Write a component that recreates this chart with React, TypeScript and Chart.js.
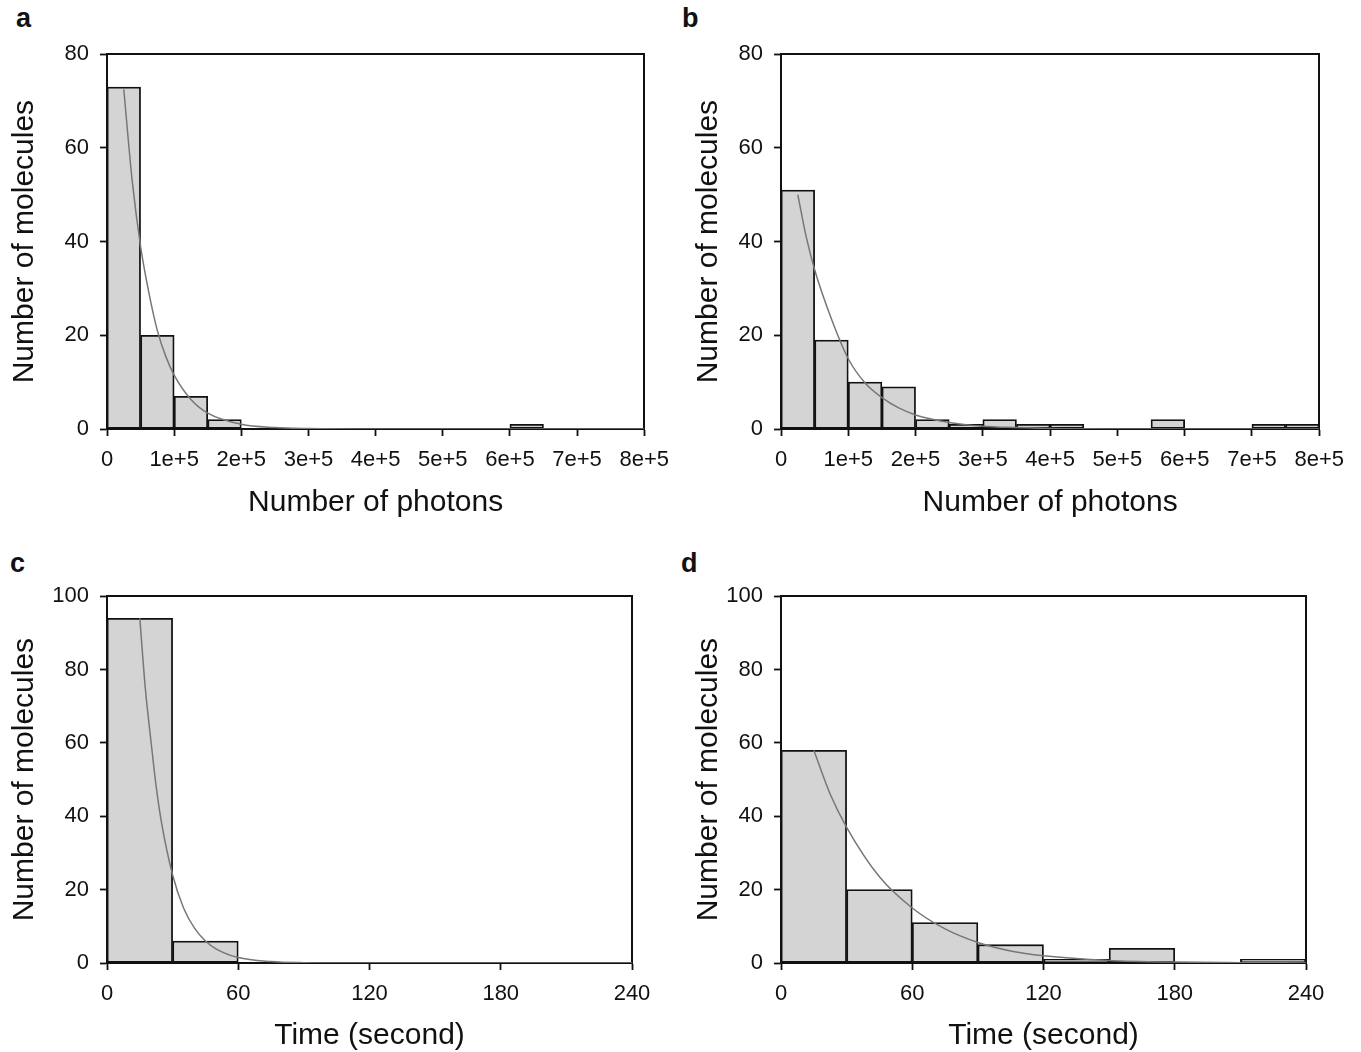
import React, { useEffect, useRef } from 'react';
import { Chart, registerables } from 'chart.js';

Chart.register(...registerables);

// ---------- data ----------
const photonBinCenters = [25000, 75000, 125000, 175000, 225000, 275000, 325000, 375000, 425000, 475000, 525000, 575000, 625000, 675000, 725000, 775000];
const photonTickLabels = ['0', '1e+5', '2e+5', '3e+5', '4e+5', '5e+5', '6e+5', '7e+5', '8e+5'];

const countsA = [73, 20, 7, 2, 0, 0, 0, 0, 0, 0, 0, 0, 1, 0, 0, 0];
const countsB = [51, 19, 10, 9, 2, 1, 2, 1, 1, 0, 0, 2, 0, 0, 1, 1];

const fitAX = [25000, 37500, 50000, 62500, 75000, 87500, 100000, 125000, 150000, 200000, 250000, 300000, 400000, 800000];
const fitAY = [72.5, 53, 39, 29, 21, 15.5, 11.5, 6.3, 3.4, 1.0, 0.3, 0.1, 0.01, 0];

const fitBX = [25000, 37500, 50000, 75000, 100000, 125000, 150000, 175000, 200000, 250000, 300000, 350000, 400000, 500000, 800000];
const fitBY = [50, 41, 34, 23.5, 15, 9.8, 6.7, 4.5, 3, 1.4, 0.6, 0.3, 0.1, 0.02, 0];

const timeBinCenters = [15, 45, 75, 105, 135, 165, 195, 225];
const timeTickLabels = ['0', '60', '120', '180', '240'];

const countsC = [94, 6, 0, 0, 0, 0, 0, 0];
const countsD = [58, 20, 11, 5, 1, 4, 0, 1];

const fitCX = [15, 17.5, 20, 22.5, 25, 30, 35, 40, 45, 50, 60, 75, 90, 120, 240];
const fitCY = [94, 75, 61, 48, 38, 24, 15, 9.5, 6, 3.8, 1.5, 0.4, 0.1, 0, 0];

const fitDX = [15, 22.5, 30, 45, 60, 75, 90, 105, 120, 150, 180, 210, 240];
const fitDY = [58, 46, 37, 23.5, 15, 9.3, 5.6, 3.3, 2, 0.7, 0.25, 0.1, 0.03];

const yTitle = 'Number of molecules';
const photonTitle = 'Number of photons';
const timeTitle = 'Time (second)';

// ---------- styling ----------
const FONT = '"Liberation Sans", Arial, Helvetica, sans-serif';
const INK = '#111111';
const BAR_FILL = '#d4d4d4';
const CURVE = '#777777';

type Spec = {
  letter: string;
  letterX: number;
  letterY: number;
  canvasLeft: number;
  canvasTop: number;
  plotLeft: number;
  plotRight: number;
  plotTop: number;
  plotBottom: number;
  canvasRight: number;
  canvasBottom: number;
  centers: number[];
  counts: number[];
  fitX: number[];
  fitY: number[];
  xMax: number;
  xStep: number;
  xLabels: string[];
  yMax: number;
  xTitle: string;
};

const specs: Spec[] = [
  {
    letter: 'a', letterX: 16, letterY: 3,
    canvasLeft: 0, canvasTop: 30, canvasRight: 680, canvasBottom: 521,
    plotLeft: 107, plotRight: 645, plotTop: 51, plotBottom: 429,
    centers: photonBinCenters, counts: countsA, fitX: fitAX, fitY: fitAY,
    xMax: 800000, xStep: 100000, xLabels: photonTickLabels, yMax: 80, xTitle: photonTitle,
  },
  {
    letter: 'b', letterX: 682, letterY: 3,
    canvasLeft: 684, canvasTop: 30, canvasRight: 1355, canvasBottom: 521,
    plotLeft: 781, plotRight: 1320, plotTop: 51, plotBottom: 429,
    centers: photonBinCenters, counts: countsB, fitX: fitBX, fitY: fitBY,
    xMax: 800000, xStep: 100000, xLabels: photonTickLabels, yMax: 80, xTitle: photonTitle,
  },
  {
    letter: 'c', letterX: 10, letterY: 548,
    canvasLeft: 0, canvasTop: 572, canvasRight: 667, canvasBottom: 1054,
    plotLeft: 107, plotRight: 632, plotTop: 593, plotBottom: 963,
    centers: timeBinCenters, counts: countsC, fitX: fitCX, fitY: fitCY,
    xMax: 240, xStep: 60, xLabels: timeTickLabels, yMax: 100, xTitle: timeTitle,
  },
  {
    letter: 'd', letterX: 681, letterY: 548,
    canvasLeft: 684, canvasTop: 572, canvasRight: 1341, canvasBottom: 1054,
    plotLeft: 781, plotRight: 1306, plotTop: 593, plotBottom: 963,
    centers: timeBinCenters, counts: countsD, fitX: fitDX, fitY: fitDY,
    xMax: 240, xStep: 60, xLabels: timeTickLabels, yMax: 100, xTitle: timeTitle,
  },
];

function Panel({ spec }: { spec: Spec }) {
  const ref = useRef<HTMLCanvasElement | null>(null);
  const width = spec.canvasRight - spec.canvasLeft;
  const height = spec.canvasBottom - spec.canvasTop;
  const leftW = spec.plotLeft - spec.canvasLeft;
  const rightW = spec.canvasRight - spec.plotRight;
  const topH = spec.plotTop - spec.canvasTop;
  const bottomH = spec.canvasBottom - spec.plotBottom;

  useEffect(() => {
    if (!ref.current) return;
    const barData = spec.centers.map((c, i) => ({ x: c, y: spec.counts[i] }));
    const fitData = spec.fitX.map((x, i) => ({ x, y: spec.fitY[i] }));
    const borderOpts = { display: true, color: INK, width: 2 };
    const chart = new Chart(ref.current, {
      type: 'bar',
      data: {
        datasets: [
          {
            type: 'line',
            data: fitData,
            borderColor: CURVE,
            borderWidth: 1.5,
            pointRadius: 0,
            fill: false,
            cubicInterpolationMode: 'monotone',
            order: 0,
          } as any,
          {
            type: 'bar',
            data: barData,
            backgroundColor: BAR_FILL,
            borderColor: INK,
            borderWidth: 1.8,
            borderSkipped: false,
            barPercentage: 1,
            categoryPercentage: 1,
            order: 1,
          } as any,
        ],
      },
      options: {
        responsive: false,
        animation: false,
        events: [],
        layout: { padding: 0 },
        plugins: { legend: { display: false }, tooltip: { enabled: false } },
        scales: {
          x: {
            type: 'linear',
            position: 'bottom',
            min: 0,
            max: spec.xMax,
            offset: false,
            afterFit: (s: any) => { s.height = bottomH; },
            ticks: {
              stepSize: spec.xStep,
              autoSkip: false,
              maxRotation: 0,
              color: INK,
              padding: 11,
              font: { family: FONT, size: 22 },
              callback: (v: any) => spec.xLabels[Math.round(Number(v) / spec.xStep)] ?? '',
            },
            grid: {
              display: true, drawOnChartArea: false, drawTicks: true, offset: false,
              tickLength: 7, tickColor: INK, tickWidth: 1.8,
            },
            border: borderOpts,
            title: {
              display: true, text: spec.xTitle, color: INK,
              font: { family: FONT, size: 30 }, padding: { top: 0, bottom: 0 },
            },
          },
          x2: {
            type: 'linear',
            axis: 'x',
            position: 'top',
            offset: false,
            afterFit: (s: any) => { s.height = topH; },
            ticks: { display: false },
            grid: { display: false },
            border: borderOpts,
          },
          y: {
            type: 'linear',
            position: 'left',
            min: 0,
            max: spec.yMax,
            afterFit: (s: any) => { s.width = leftW; },
            ticks: {
              stepSize: 20,
              color: INK,
              padding: 11,
              font: { family: FONT, size: 22 },
            },
            grid: {
              display: true, drawOnChartArea: false, drawTicks: true,
              tickLength: 7, tickColor: INK, tickWidth: 1.8,
            },
            border: borderOpts,
            title: {
              display: true, text: yTitle, color: INK,
              font: { family: FONT, size: 30 }, padding: { top: 7, bottom: 0 },
            },
          },
          y2: {
            type: 'linear',
            position: 'right',
            afterFit: (s: any) => { s.width = rightW; },
            ticks: { display: false },
            grid: { display: false },
            border: borderOpts,
          },
        },
      } as any,
    });
    return () => chart.destroy();
  }, []);

  return (
    <canvas
      ref={ref}
      width={width}
      height={height}
      style={{ position: 'absolute', left: spec.canvasLeft, top: spec.canvasTop, width, height }}
    />
  );
}

export default function App() {
  return (
    <div
      style={{
        position: 'absolute', left: 0, top: 0, width: 1361, height: 1052,
        overflow: 'hidden', background: '#fff',
      }}
    >
      {specs.map((s) => (
        <div
          key={'l' + s.letter}
          style={{
            position: 'absolute', left: s.letterX, top: s.letterY,
            fontFamily: FONT, fontWeight: 'bold', fontSize: 27, color: INK, lineHeight: '30px',
          }}
        >
          {s.letter}
        </div>
      ))}
      {specs.map((s) => (
        <Panel key={s.letter} spec={s} />
      ))}
    </div>
  );
}
